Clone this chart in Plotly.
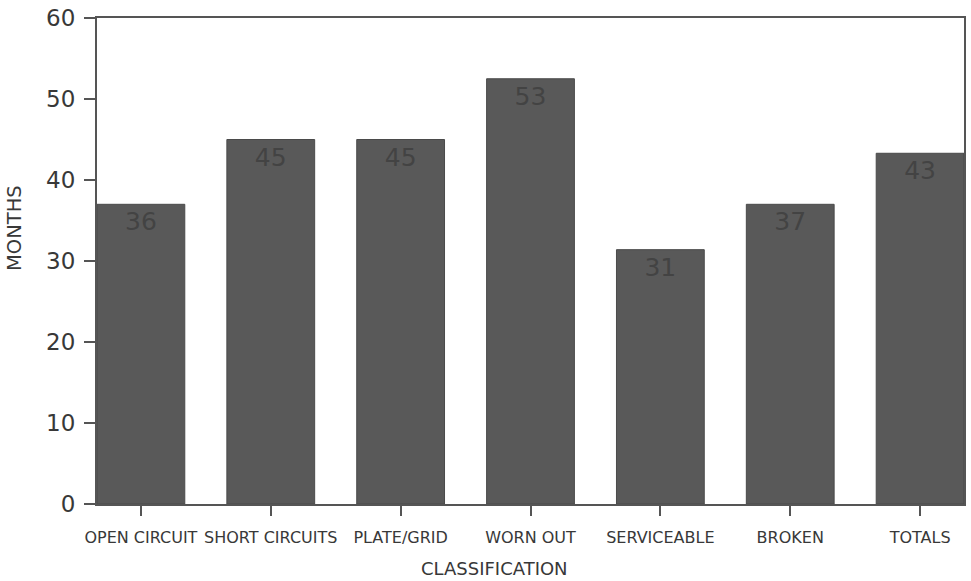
import plotly.graph_objects as go

categories = ["OPEN CIRCUIT", "SHORT CIRCUITS", "PLATE/GRID", "WORN OUT",
              "SERVICEABLE", "BROKEN", "TOTALS"]
months = [37, 45, 45, 52.5, 31.4, 37, 43.3]
value_labels = ["36", "45", "45", "53", "31", "37", "43"]

fig = go.Figure(go.Bar(
    x=list(range(len(categories))),
    y=months,
    text=value_labels,
    textposition="inside",
    insidetextanchor="end",
    textfont=dict(family="DejaVu Sans", size=25, color="#434343"),
    marker=dict(color="#595959", line=dict(color="#4a4a4a", width=1)),
    width=0.676,
    cliponaxis=False,
))

fig.update_layout(
    width=971, height=581,
    margin=dict(l=97, r=5, t=18, b=77),
    plot_bgcolor="white", paper_bgcolor="white",
    showlegend=False,
    font=dict(family="DejaVu Sans", color="#383838"),
    annotations=[
        dict(text="MONTHS", xref="paper", yref="paper", x=-0.0945, y=0.568,
             textangle=-90, showarrow=False, xanchor="center", yanchor="middle",
             font=dict(size=19.5, color="#383838")),
        dict(text="CLASSIFICATION", xref="x", yref="paper", x=2.72, y=-0.133,
             showarrow=False, xanchor="center", yanchor="middle",
             font=dict(size=18, color="#383838")),
    ],
)
fig.update_xaxes(
    range=[-0.338, 6.338],
    tickmode="array",
    tickvals=list(range(len(categories))),
    ticktext=categories,
    ticks="outside", ticklen=10, tickwidth=2, tickcolor="#555",
    tickfont=dict(size=16, color="#383838"),
    ticklabelstandoff=8,
    showline=True, linecolor="#555", linewidth=2, mirror=True,
    showgrid=False, zeroline=False,
)
fig.update_yaxes(
    range=[0, 60],
    tickvals=[0, 10, 20, 30, 40, 50, 60],
    ticks="outside", ticklen=11, tickwidth=2, tickcolor="#555",
    tickfont=dict(size=23, color="#383838"),
    ticklabelstandoff=4,
    showline=True, linecolor="#555", linewidth=2, mirror=True,
    showgrid=False, zeroline=False,
)

fig.write_html("out.html")
